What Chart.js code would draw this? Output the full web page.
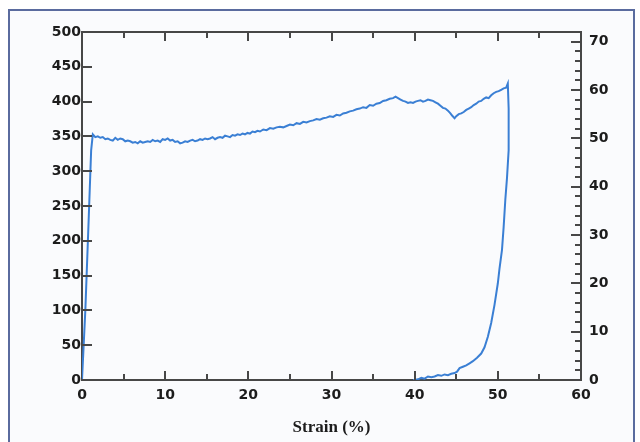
<!DOCTYPE html>
<html>
<head>
<meta charset="utf-8">
<script src="https://cdn.jsdelivr.net/npm/chart.js@4.4.1/dist/chart.umd.min.js"></script>
<style>
  html, body { margin: 0; padding: 0; background: #ffffff; }
  canvas { display: block; }
</style>
</head>
<body>
<canvas id="myChart" width="640" height="442"></canvas>
<script>
// strain (%) and stress, in drawing order
var strain = [0, 0.4, 0.8, 1.1, 1.3, 1.6, 1.9, 2.2, 2.5, 2.8, 3.1, 3.4, 3.7, 4.0, 4.3, 4.6, 4.9, 5.2, 5.5, 5.8,
  6.1, 6.4, 6.7, 7.0, 7.3, 7.6, 7.9, 8.2, 8.5, 8.8, 9.1, 9.4, 9.7, 10.0, 10.3, 10.6, 10.9, 11.2, 11.5, 11.8,
  12.1, 12.4, 12.7, 13.0, 13.3, 13.6, 13.9, 14.2, 14.5, 14.8, 15.1, 15.4, 15.7, 16.0, 16.3, 16.6, 16.9, 17.2, 17.5, 17.8,
  18.1, 18.4, 18.7, 19.0, 19.3, 19.6, 19.9, 20.2, 20.5, 20.8, 21.1, 21.4, 21.8, 22.2, 22.6, 23.0, 23.4, 23.8, 24.2, 24.6,
  25.0, 25.4, 25.8, 26.2, 26.6, 27.0, 27.4, 27.8, 28.2, 28.6, 29.0, 29.4, 29.8, 30.2, 30.6, 31.0, 31.4, 31.8, 32.2, 32.6,
  33.0, 33.4, 33.8, 34.2, 34.6, 35.0, 35.4, 35.8, 36.2, 36.6, 37.0, 37.4, 37.7, 38.0, 38.3, 38.6, 38.9, 39.2, 39.5, 39.8,
  40.1, 40.4, 40.7, 41.0, 41.3, 41.6, 41.9, 42.2, 42.5, 42.8, 43.1, 43.4, 43.7, 44.0, 44.3, 44.5, 44.8, 45.0, 45.3, 45.6,
  45.9, 46.2, 46.5, 46.8, 47.1, 47.4, 47.7, 48.0, 48.3, 48.6, 48.9, 49.2, 49.5, 49.8, 50.1, 50.4, 50.7, 51.0, 51.2,
  51.3, 51.3, 51.1, 50.9, 50.7, 50.5, 50.2, 50.0, 49.6, 49.2, 48.8, 48.4, 48.0, 47.5, 47.0, 46.6, 46.2, 45.8, 45.4, 45.1,
  44.8, 44.4, 44.0, 43.6, 43.2, 42.8, 42.4, 42.0, 41.6, 41.2, 40.8, 40.4, 40.0, 39.8];
var stress = [0, 100, 230, 330, 353, 349, 350, 348, 349, 346, 347, 345, 344, 348, 345, 347, 346, 343, 344, 343,
  341, 342, 340, 343, 341, 342, 343, 342, 345, 343, 344, 342, 346, 345, 347, 344, 345, 342, 343, 340,
  341, 343, 342, 344, 345, 343, 344, 346, 345, 347, 346, 347, 349, 346, 348, 349, 348, 351, 350, 349,
  352, 351, 353, 352, 354, 353, 355, 354, 357, 356, 358, 357, 360, 359, 362, 361, 363, 364, 363, 365,
  367, 366, 369, 368, 371, 370, 372, 373, 375, 374, 376, 377, 379, 378, 381, 380, 383, 384, 386, 387,
  389, 390, 392, 391, 395, 394, 397, 398, 401, 402, 404, 405, 407, 405, 403, 401, 400, 398, 399, 398,
  400, 401, 402, 400, 401, 403, 402, 401, 399, 397, 394, 391, 390, 387, 383, 380, 376, 379, 382, 383,
  385, 388, 390, 392, 395, 397, 400, 401, 404, 406, 405, 409, 412, 414, 415, 417, 419, 420, 426,
  390, 330, 290, 259, 220, 187, 160, 139, 108, 82, 62, 47, 38, 32, 27, 24, 21, 19, 17, 12,
  10, 9, 7, 8, 6, 7, 5, 4, 5, 2, 3, 1, 0, 0];

var xTicks = [0, 10, 20, 30, 40, 50, 60];
var leftTicks = [0, 50, 100, 150, 200, 250, 300, 350, 400, 450, 500];
var rightTicks = [0, 10, 20, 30, 40, 50, 60, 70];

var points = strain.map(function (s, i) { return { x: s, y: stress[i] }; });

var axisColor = '#474747';
var labelFont = { family: 'DejaVu Sans', weight: 'bold', size: 14 };

// light panel with a blue frame behind the chart
var framePlugin = {
  id: 'frame',
  beforeDraw: function (chart) {
    var ctx = chart.ctx;
    ctx.save();
    ctx.fillStyle = '#fafbfd';
    ctx.fillRect(9, 10, 625, 440);
    ctx.strokeStyle = '#5a6b9e';
    ctx.lineWidth = 2;
    ctx.beginPath();
    ctx.moveTo(9, 450);
    ctx.lineTo(9, 10);
    ctx.lineTo(634, 10);
    ctx.lineTo(634, 450);
    ctx.stroke();
    ctx.restore();
  }
};

// ticks pointing into the plot, as in the original
var innerTicks = {
  id: 'innerTicks',
  afterDraw: function (chart) {
    var ctx = chart.ctx;
    var a = chart.chartArea;
    var sx = chart.scales.x, sy = chart.scales.y, sy2 = chart.scales.y2;
    ctx.save();
    ctx.strokeStyle = axisColor;
    ctx.lineWidth = 2;
    ctx.beginPath();
    for (var v = 5; v < 60; v += 5) {
      var px = Math.round(sx.getPixelForValue(v));
      var len = v % 10 === 0 ? 9 : 6;
      ctx.moveTo(px, a.bottom);
      ctx.lineTo(px, a.bottom - len);
      ctx.moveTo(px, a.top);
      ctx.lineTo(px, a.top + len);
    }
    leftTicks.forEach(function (t) {
      var py = Math.round(sy.getPixelForValue(t));
      ctx.moveTo(a.left, py);
      ctx.lineTo(a.left + 10, py);
    });
    for (var r = 2; r < 72; r += 2) {
      var py2 = Math.round(sy2.getPixelForValue(r));
      ctx.moveTo(a.right, py2);
      ctx.lineTo(a.right - (r % 10 === 0 ? 10 : 6), py2);
    }
    ctx.stroke();
    ctx.restore();
  }
};

function keepTicks(list) {
  return function (scale) {
    scale.ticks = list.map(function (v) { return { value: v }; });
  };
}

var myChart = new Chart(document.getElementById('myChart'), {
  type: 'scatter',
  data: {
    datasets: [{
      data: points,
      showLine: true,
      borderColor: '#3a7fd4',
      borderWidth: 2,
      pointRadius: 0,
      tension: 0
    }]
  },
  options: {
    responsive: false,
    animation: false,
    layout: { padding: 0 },
    plugins: { legend: { display: false }, tooltip: { enabled: false } },
    scales: {
      x: {
        type: 'linear', position: 'bottom', min: 0, max: 60,
        afterBuildTicks: keepTicks(xTicks),
        afterFit: function (s) { s.height = 62; },
        grid: { display: false, drawTicks: false },
        border: { color: axisColor, width: 2 },
        ticks: { color: '#1c1c1c', font: labelFont, padding: 7, maxRotation: 0 },
        title: {
          display: true, text: 'Strain (%)', color: '#1c1c1c',
          font: { family: 'Liberation Serif', weight: 'bold', size: 17 },
          padding: { top: 0, bottom: 4 }
        }
      },
      x2: {
        type: 'linear', position: 'top', min: 0, max: 60,
        afterFit: function (s) { s.height = 32; },
        grid: { display: false, drawTicks: false },
        border: { color: axisColor, width: 2 },
        ticks: { display: false }
      },
      y: {
        type: 'linear', position: 'left', min: 0, max: 500,
        afterBuildTicks: keepTicks(leftTicks),
        afterFit: function (s) { s.width = 82; },
        grid: { display: false, drawTicks: false },
        border: { color: axisColor, width: 2 },
        ticks: { color: '#1c1c1c', font: labelFont, padding: 1 }
      },
      y2: {
        type: 'linear', position: 'right', min: 0, max: 72,
        afterBuildTicks: keepTicks(rightTicks),
        afterFit: function (s) { s.width = 59; },
        grid: { display: false, drawTicks: false },
        border: { color: axisColor, width: 2 },
        ticks: { color: '#1c1c1c', font: labelFont, padding: 8 }
      }
    }
  },
  plugins: [framePlugin, innerTicks]
});
</script>
</body>
</html>
